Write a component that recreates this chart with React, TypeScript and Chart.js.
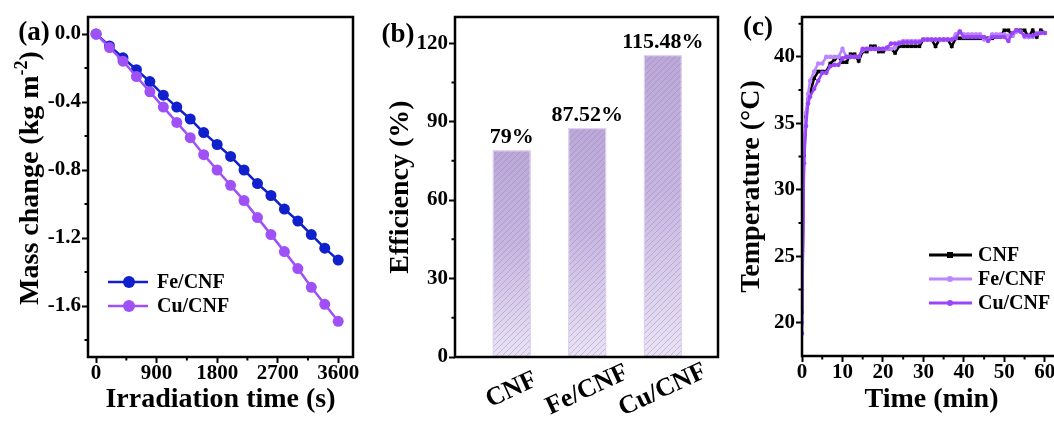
import React, { useEffect, useRef } from 'react';
import { Chart, registerables } from 'chart.js';

Chart.register(...registerables);

const FONT = "'Liberation Serif', 'Times New Roman', Times, serif";
Chart.defaults.font.family = FONT;
Chart.defaults.color = '#000';

// ---------- (a) mass change ----------
const massTimes = [0, 200, 400, 600, 800, 1000, 1200, 1400, 1600, 1800, 2000, 2200, 2400, 2600, 2800, 3000, 3200, 3400, 3600];
const feMass = [0, -0.07, -0.14, -0.21, -0.28, -0.36, -0.43, -0.5, -0.58, -0.65, -0.72, -0.8, -0.88, -0.95, -1.03, -1.1, -1.18, -1.26, -1.33];
const cuMass = [0, -0.08, -0.16, -0.25, -0.34, -0.43, -0.52, -0.61, -0.71, -0.8, -0.89, -0.98, -1.08, -1.18, -1.28, -1.38, -1.49, -1.59, -1.69];
const massXTicks = [0, 900, 1800, 2700, 3600];
const massXMinor = [450, 1350, 2250, 3150];
const massYTicks = [0, -0.4, -0.8, -1.2, -1.6];
const massYMinor = [-0.2, -0.6, -1.0, -1.4, -1.8];

// ---------- (b) efficiency ----------
const effCategories = ['CNF', 'Fe/CNF', 'Cu/CNF'];
const effValues = [79, 87.52, 115.48];
const effLabels = ['79%', '87.52%', '115.48%'];
const effYTicks = [0, 30, 60, 90, 120];
const effYMinor = [15, 45, 75, 105];

// ---------- (c) temperature ----------
const tempTimes = [0, 0.5, 1, 1.5, 2, 3, 4, 5, 6, 7, 8, 9, 10, 11, 12, 13, 14, 15, 16, 17, 18, 19, 20, 21, 22, 23, 24, 25, 26, 27, 28, 29, 30, 31, 32, 33, 34, 35, 36, 37, 38, 39, 40, 41, 42, 43, 44, 45, 46, 47, 48, 49, 50, 51, 52, 53, 54, 55, 56, 57, 58, 59, 60];
const cnfTemp = [20.8, 32.6, 35.5, 36.8, 37.3, 38.4, 38.9, 38.9, 38.9, 39.5, 39.8, 40.0, 39.6, 39.6, 40.2, 40.2, 39.7, 40.4, 40.4, 40.8, 40.8, 40.4, 40.4, 40.6, 40.6, 40.3, 40.8, 40.8, 40.8, 40.8, 40.8, 40.8, 41.3, 41.3, 41.3, 40.8, 41.3, 41.3, 41.3, 40.8, 41.4, 41.4, 41.4, 41.4, 41.4, 41.4, 41.4, 41.4, 41.4, 41.4, 41.5, 41.5, 42.0, 42.0, 41.6, 42.0, 42.0, 42.0, 41.5, 42.0, 41.5, 42.0, 41.8];
const feTemp = [20.0, 33.6, 35.8, 37.2, 38.2, 38.9, 39.5, 39.5, 40.0, 40.0, 40.0, 40.0, 40.6, 40.0, 40.0, 40.0, 40.0, 40.5, 40.6, 40.6, 40.6, 40.6, 40.6, 40.6, 40.6, 40.7, 41.1, 41.2, 41.2, 41.2, 41.2, 41.2, 41.3, 41.3, 41.3, 41.3, 41.3, 41.3, 41.3, 41.3, 41.7, 41.9, 41.7, 41.7, 41.7, 41.7, 41.7, 41.3, 41.3, 41.7, 41.7, 41.7, 41.7, 41.6, 41.6, 41.9, 41.9, 41.5, 41.5, 41.5, 41.8, 41.8, 41.8];
const cuTemp = [19.2, 32.0, 34.8, 36.5, 37.0, 37.6, 38.2, 38.8, 38.8, 39.3, 39.4, 39.4, 39.9, 40.0, 40.0, 40.0, 40.0, 40.6, 40.6, 40.6, 40.6, 40.6, 40.6, 40.7, 41.0, 41.0, 41.0, 41.1, 41.1, 41.1, 41.1, 41.1, 41.3, 41.3, 41.3, 41.3, 41.3, 41.3, 41.3, 41.3, 41.4, 41.9, 41.5, 41.5, 41.5, 41.5, 41.5, 41.5, 41.2, 41.5, 41.5, 41.5, 41.5, 41.2, 41.8, 42.0, 41.9, 41.6, 41.6, 41.6, 41.7, 41.8, 41.8];
const tempXTicks = [0, 10, 20, 30, 40, 50, 60];
const tempXMinor = [5, 15, 25, 35, 45, 55];
const tempYTicks = [20, 25, 30, 35, 40];
const tempYMinor = [22.5, 27.5, 32.5, 37.5, 42.5];

const pairs = (xs: number[], ys: number[]) => xs.map((x, i) => ({ x, y: ys[i] }));

const tickFont = { size: 21, weight: 'bold' as const };
const titleFont = { size: 28, weight: 'bold' as const };
const plain = (v: any) => String(v);

const majorGrid = {
  display: true,
  drawOnChartArea: false,
  drawTicks: true,
  tickLength: 6,
  tickWidth: 2,
  tickColor: '#000',
};

function makeHatch(): HTMLCanvasElement {
  const c = document.createElement('canvas');
  c.width = 6;
  c.height = 6;
  const g = c.getContext('2d')!;
  g.strokeStyle = 'rgba(150,122,192,0.42)';
  g.lineWidth = 1;
  g.beginPath();
  g.moveTo(0, 6); g.lineTo(6, 0);
  g.moveTo(-1, 1); g.lineTo(1, -1);
  g.moveTo(5, 7); g.lineTo(7, 5);
  g.stroke();
  return c;
}

const decorPlugin = {
  id: 'decor',
  afterDatasetsDraw(chart: any, _args: any, opts: any) {
    const { ctx, chartArea: a, scales } = chart;
    ctx.save();
    if (opts.bars) {
      const meta = chart.getDatasetMeta(0);
      const pat = ctx.createPattern(makeHatch(), 'repeat');
      meta.data.forEach((bar: any, i: number) => {
        const p = bar.getProps(['x', 'y', 'base', 'width'], true);
        ctx.fillStyle = pat;
        ctx.fillRect(p.x - p.width / 2 + 1, p.y + 1, p.width - 2, p.base - p.y - 1);
        ctx.fillStyle = '#000';
        ctx.font = `bold 22px ${FONT}`;
        ctx.textAlign = 'center';
        ctx.textBaseline = 'alphabetic';
        ctx.fillText(opts.bars.labels[i], p.x, p.y - 7);
      });
      ctx.font = `bold 26px ${FONT}`;
      ctx.textAlign = 'center';
      ctx.textBaseline = 'middle';
      opts.bars.categories.forEach((c: string, i: number) => {
        const x = scales.x.getPixelForValue(i);
        ctx.save();
        ctx.translate(x, opts.bars.catY);
        ctx.rotate(-25 * Math.PI / 180);
        ctx.fillText(c, 0, 0);
        ctx.restore();
      });
    }
    ctx.strokeStyle = '#000';
    ctx.lineWidth = 2.5;
    ctx.strokeRect(a.left, a.top, a.right - a.left, a.bottom - a.top);
    ctx.lineWidth = 2;
    ctx.beginPath();
    (opts.xMinor || []).forEach((v: number) => {
      const x = scales.x.getPixelForValue(v);
      ctx.moveTo(x, a.bottom);
      ctx.lineTo(x, a.bottom + 3.5);
    });
    (opts.yMinor || []).forEach((v: number) => {
      const y = scales.y.getPixelForValue(v);
      ctx.moveTo(a.left - 3.5, y);
      ctx.lineTo(a.left, y);
    });
    ctx.stroke();
    if (opts.legend) {
      const lg = opts.legend;
      lg.items.forEach((it: any, i: number) => {
        const ds = chart.data.datasets[it.index];
        const y = lg.ys[i];
        ctx.strokeStyle = ds.borderColor;
        ctx.lineWidth = lg.lineWidth;
        ctx.beginPath();
        ctx.moveTo(lg.x0, y);
        ctx.lineTo(lg.x1, y);
        ctx.stroke();
        ctx.fillStyle = ds.borderColor;
        const mx = lg.mx;
        if (ds.pointStyle === 'rect') {
          ctx.fillRect(mx - lg.r, y - lg.r, lg.r * 2, lg.r * 2);
        } else {
          ctx.beginPath();
          ctx.arc(mx, y, lg.r, 0, Math.PI * 2);
          ctx.fill();
        }
        ctx.fillStyle = '#000';
        ctx.font = `bold ${lg.size}px ${FONT}`;
        ctx.textAlign = 'left';
        ctx.textBaseline = 'middle';
        ctx.fillText(ds.label, lg.textX, y + 1);
      });
    }
    if (opts.yTitle) {
      const t = opts.yTitle;
      ctx.save();
      ctx.translate(t.x, t.y);
      ctx.rotate(-Math.PI / 2);
      ctx.fillStyle = '#000';
      ctx.textBaseline = 'middle';
      ctx.textAlign = 'left';
      const big = `bold ${t.size}px ${FONT}`;
      const small = `bold ${t.supSize}px ${FONT}`;
      ctx.font = big;
      const w1 = ctx.measureText(t.main).width;
      const w3 = ctx.measureText(t.end).width;
      ctx.font = small;
      const w2 = ctx.measureText(t.sup).width;
      let x = -(w1 + w2 + w3) / 2;
      ctx.font = big;
      ctx.fillText(t.main, x, 0);
      x += w1;
      ctx.font = small;
      ctx.fillText(t.sup, x, -t.raise);
      x += w2;
      ctx.font = big;
      ctx.fillText(t.end, x, 0);
      ctx.restore();
    }
    if (opts.panel) {
      ctx.fillStyle = '#000';
      ctx.font = `bold 27px ${FONT}`;
      ctx.textAlign = 'center';
      ctx.textBaseline = 'middle';
      ctx.fillText(opts.panel.text, opts.panel.x, opts.panel.y);
    }
    ctx.restore();
  },
};

const setTicks = (vals: number[]) => (s: any) => {
  s.ticks = vals.map((v) => ({ value: v }));
};

function configA(): any {
  return {
    type: 'line',
    data: {
      datasets: [
        {
          label: 'Fe/CNF',
          data: pairs(massTimes, feMass),
          borderColor: '#1020cc',
          backgroundColor: '#1020cc',
          pointBackgroundColor: '#1020cc',
          borderWidth: 2.5,
          pointRadius: 5.5,
          pointBorderWidth: 0,
          order: 2,
        },
        {
          label: 'Cu/CNF',
          data: pairs(massTimes, cuMass),
          borderColor: '#a050f7',
          backgroundColor: '#a050f7',
          pointBackgroundColor: '#a050f7',
          borderWidth: 2.5,
          pointRadius: 5.5,
          pointBorderWidth: 0,
          order: 1,
        },
      ],
    },
    options: {
      responsive: false,
      animation: false,
      events: [],
      layout: { padding: { left: 0, top: 17, right: 27, bottom: 0 } },
      plugins: {
        legend: { display: false },
        tooltip: { enabled: false },
        decor: {
          xMinor: massXMinor,
          yMinor: massYMinor,
          panel: { text: '(a)', x: 34, y: 33 },
          legend: {
            items: [{ index: 0 }, { index: 1 }],
            x0: 108, x1: 148, mx: 129, r: 6, textX: 157, ys: [282, 306], size: 20, lineWidth: 2.5,
          },
          yTitle: { main: 'Mass change (kg m', sup: '-2', end: ')', size: 28, supSize: 18, raise: 9, x: 31, y: 178 },
        },
      },
      scales: {
        x: {
          type: 'linear',
          min: -120,
          max: 3820,
          afterBuildTicks: setTicks(massXTicks),
          afterFit: (s: any) => { s.height = 67; },
          grid: majorGrid,
          border: { display: false },
          ticks: { font: tickFont, color: '#000', padding: -2, maxRotation: 0, callback: plain },
          title: { display: true, text: 'Irradiation time (s)', font: titleFont, color: '#000', padding: { top: 0, bottom: 7 } },
        },
        y: {
          type: 'linear',
          min: -1.9,
          max: 0.1,
          afterBuildTicks: setTicks(massYTicks),
          afterFit: (s: any) => { s.width = 88; },
          grid: majorGrid,
          border: { display: false },
          ticks: { font: tickFont, color: '#000', padding: 1, callback: (v: any) => Number(v).toFixed(1) },
        },
      },
    },
    plugins: [decorPlugin],
  };
}

function configB(): any {
  return {
    type: 'bar',
    data: {
      datasets: [
        {
          label: 'Efficiency',
          data: effValues.map((v, i) => ({ x: i, y: v })),
          barThickness: 38,
          borderWidth: 1.5,
          borderColor: 'rgba(222,212,240,1)',
          borderSkipped: false,
          backgroundColor: (c: any) => {
            const chart = c.chart;
            if (!chart.chartArea || c.type !== 'data') return 'rgb(200,184,224)';
            const ys = chart.scales.y;
            const v = effValues[c.dataIndex];
            const top = ys.getPixelForValue(v);
            const bottom = ys.getPixelForValue(0);
            const g = chart.ctx.createLinearGradient(0, top, 0, bottom);
            g.addColorStop(0, 'rgb(187,168,215)');
            g.addColorStop(0.45, 'rgb(198,182,223)');
            g.addColorStop(1, 'rgb(234,228,244)');
            return g;
          },
        },
      ],
    },
    options: {
      responsive: false,
      animation: false,
      events: [],
      layout: { padding: { left: 0, top: 17, right: 22, bottom: 0 } },
      plugins: {
        legend: { display: false },
        tooltip: { enabled: false },
        decor: {
          yMinor: effYMinor,
          panel: { text: '(b)', x: 38, y: 35 },
          bars: { labels: effLabels, categories: effCategories, catY: 390 },
        },
      },
      scales: {
        x: {
          type: 'linear',
          offset: false,
          min: -0.75,
          max: 2.73,
          afterFit: (s: any) => { s.height = 67; },
          grid: { display: false, offset: false },
          border: { display: false },
          ticks: { display: false },
        },
        y: {
          type: 'linear',
          min: 0,
          max: 130,
          afterBuildTicks: setTicks(effYTicks),
          afterFit: (s: any) => { s.width = 95; },
          grid: majorGrid,
          border: { display: false },
          ticks: { font: tickFont, color: '#000', padding: 1, callback: plain },
          title: { display: true, text: 'Efficiency (%)', font: titleFont, color: '#000', padding: { top: 24, bottom: 0 } },
        },
      },
    },
    plugins: [decorPlugin],
  };
}

function configC(): any {
  const common = { borderWidth: 2.6, pointBorderWidth: 0, tension: 0 };
  return {
    type: 'line',
    data: {
      datasets: [
        {
          ...common,
          label: 'CNF',
          data: pairs(tempTimes, cnfTemp),
          borderColor: '#000000',
          backgroundColor: '#000000',
          pointBackgroundColor: '#000000',
          pointStyle: 'rect',
          pointRadius: 2.6,
          order: 3,
        },
        {
          ...common,
          label: 'Fe/CNF',
          data: pairs(tempTimes, feTemp),
          borderColor: '#bb86ff',
          backgroundColor: '#bb86ff',
          pointBackgroundColor: '#bb86ff',
          pointStyle: 'circle',
          pointRadius: 2.3,
          order: 2,
        },
        {
          ...common,
          label: 'Cu/CNF',
          data: pairs(tempTimes, cuTemp),
          borderColor: '#9b45fb',
          backgroundColor: '#9b45fb',
          pointBackgroundColor: '#9b45fb',
          pointStyle: 'circle',
          pointRadius: 2.3,
          order: 1,
        },
      ],
    },
    options: {
      responsive: false,
      animation: false,
      events: [],
      layout: { padding: { left: 0, top: 17, right: 39, bottom: 0 } },
      plugins: {
        legend: { display: false },
        tooltip: { enabled: false },
        decor: {
          xMinor: tempXMinor,
          yMinor: tempYMinor,
          panel: { text: '(c)', x: 38, y: 28 },
          legend: {
            items: [{ index: 0 }, { index: 1 }, { index: 2 }],
            x0: 209, x1: 252, mx: 230, r: 3, textX: 258, ys: [255, 279, 303], size: 20, lineWidth: 3,
          },
        },
      },
      scales: {
        x: {
          type: 'linear',
          min: 0,
          max: 64,
          afterBuildTicks: setTicks(tempXTicks),
          afterFit: (s: any) => { s.height = 68; },
          grid: majorGrid,
          border: { display: false },
          ticks: { font: tickFont, color: '#000', padding: -2, maxRotation: 0, callback: plain },
          title: { display: true, text: 'Time (min)', font: titleFont, color: '#000', padding: { top: 0, bottom: 7 } },
        },
        y: {
          type: 'linear',
          min: 17.5,
          max: 43,
          afterBuildTicks: setTicks(tempYTicks),
          afterFit: (s: any) => { s.width = 82; },
          grid: majorGrid,
          border: { display: false },
          ticks: { font: tickFont, color: '#000', padding: 1, callback: plain },
          title: { display: true, text: 'Temperature (°C)', font: titleFont, color: '#000', padding: { top: 15, bottom: 0 } },
        },
      },
    },
    plugins: [decorPlugin],
  };
}

export default function App() {
  const aRef = useRef<HTMLCanvasElement>(null);
  const bRef = useRef<HTMLCanvasElement>(null);
  const cRef = useRef<HTMLCanvasElement>(null);

  useEffect(() => {
    const charts = [
      new Chart(aRef.current!, configA()),
      new Chart(bRef.current!, configB()),
      new Chart(cRef.current!, configC()),
    ];
    return () => charts.forEach((c) => c.destroy());
  }, []);

  return (
    <div style={{ position: 'fixed', left: 0, top: 0, width: 1054, height: 424, overflow: 'hidden', background: '#fff' }}>
      <canvas ref={aRef} width={380} height={424} style={{ position: 'absolute', left: 0, top: 0 }} />
      <canvas ref={bRef} width={380} height={424} style={{ position: 'absolute', left: 360, top: 0 }} />
      <canvas ref={cRef} width={380} height={424} style={{ position: 'absolute', left: 720, top: 0 }} />
    </div>
  );
}
